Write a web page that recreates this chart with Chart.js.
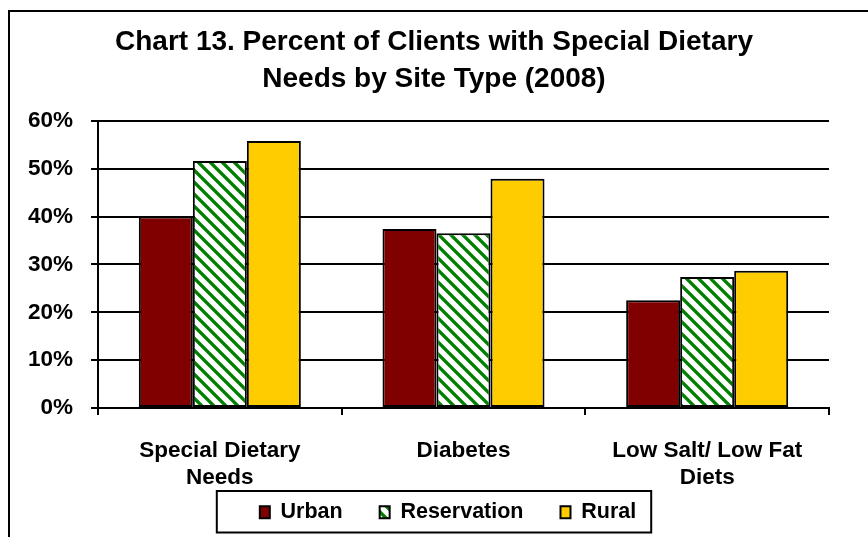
<!DOCTYPE html>
<html><head><meta charset="utf-8">
<script src="https://cdn.jsdelivr.net/npm/chart.js@4"></script>
<style>html,body{margin:0;padding:0;background:#fff}#wrap{width:868px;height:537px;position:relative}</style>
</head><body><div id="wrap"><canvas id="c" width="868" height="537"></canvas></div>
<script>
// ---- data ----
const categories = [["Special Dietary", "Needs"], "Diabetes", ["Low Salt/ Low Fat", "Diets"]];
const seriesNames = ["Urban", "Reservation", "Rural"];
const urbanValues = [40.0, 37.4, 22.5];
const reservationValues = [51.6, 36.5, 27.4];
const ruralValues = [55.8, 47.9, 28.7];
const yTickValues = [0, 10, 20, 30, 40, 50, 60];
const titleLines = ["Chart 13. Percent of Clients with Special Dietary", "Needs by Site Type (2008)"];

// ---- styles ----
const FONT = "'Liberation Sans', Arial, sans-serif";
const urbanColor = '#800000';
const ruralColor = '#FFCC00';

function makeStripePattern() {
  const P = 12, HALF = 2.3, c = document.createElement('canvas');
  c.width = P; c.height = P;
  const g = c.getContext('2d');
  const img = g.createImageData(P, P);
  const gr = [0, 128, 0];
  for (let y = 0; y < P; y++) for (let x = 0; x < P; x++) {
    let cov = 0;
    for (let sy = 0; sy < 4; sy++) for (let sx = 0; sx < 4; sx++) {
      const px = x + (sx + 0.5) / 4, py = y + (sy + 0.5) / 4;
      const d = ((px - py) % P + P) % P;
      if (Math.min(d, P - d) < HALF) cov++;
    }
    cov /= 16;
    const i = (y * P + x) * 4;
    for (let k = 0; k < 3; k++) img.data[i + k] = Math.round(255 * (1 - cov) + gr[k] * cov);
    img.data[i + 3] = 255;
  }
  g.putImageData(img, 0, 0);
  return document.getElementById('c').getContext('2d').createPattern(c, 'repeat');
}
const stripe = makeStripePattern();

const framePlugin = {
  id: 'frame',
  afterLayout(chart) {
    // nudge title and legend horizontally / legend items vertically
    const t = chart.titleBlock;
    if (t) { t.left += 14.5; t.right += 14.5; }
    const lg = chart.legend;
    if (lg) { lg.left += 28.5; lg.right += 28.5; lg.top -= 26.5; }
  },
  beforeDraw(chart) {
    const ctx = chart.ctx;
    ctx.save();
    ctx.fillStyle = '#fff';
    ctx.fillRect(0, 0, chart.width, chart.height);
    ctx.strokeStyle = '#000';
    ctx.lineWidth = 2;
    ctx.strokeRect(9, 11, chart.width + 40, chart.height + 40);
    ctx.restore();
  },
  afterDraw(chart) {
    const hb = chart.legend.legendHitBoxes;
    if (!hb || !hb.length) return;
    const first = hb[0], last = hb[hb.length - 1];
    const x0 = first.left - 43, x1 = last.left + last.width + 15;
    const y0 = first.top - 10.5, y1 = first.top + 31;
    const ctx = chart.ctx;
    ctx.save();
    ctx.strokeStyle = '#000';
    ctx.lineWidth = 2;
    ctx.strokeRect(x0, y0, x1 - x0, y1 - y0);
    ctx.restore();
  }
};

new Chart(document.getElementById('c'), {
  type: 'bar',
  data: {
    labels: categories,
    datasets: [
      { label: seriesNames[0], data: urbanValues, backgroundColor: urbanColor },
      { label: seriesNames[1], data: reservationValues, backgroundColor: stripe },
      { label: seriesNames[2], data: ruralValues, backgroundColor: ruralColor }
    ]
  },
  plugins: [framePlugin],
  options: {
    responsive: false,
    animation: false,
    devicePixelRatio: 1,
    layout: { padding: { left: 10, right: 39, top: 10, bottom: 4 } },
    datasets: {
      bar: {
        borderColor: '#000', borderWidth: 2, borderSkipped: false,
        categoryPercentage: 0.665, barPercentage: 1.0
      }
    },
    plugins: {
      tooltip: { enabled: false },
      title: {
        display: true,
        text: titleLines,
        color: '#000',
        font: { family: FONT, size: 28, weight: 'bold', lineHeight: 1.32 },
        padding: { top: 13.5, bottom: 23.5 }
      },
      legend: {
        position: 'bottom',
        maxHeight: 42,
        labels: {
          color: '#000',
          font: { family: FONT, size: 21.5, weight: 'bold' },
          boxWidth: 10, boxHeight: 12,
          padding: 37
        }
      }
    },
    scales: {
      x: {
        afterFit(s) { s.height = 83; },
        grid: { drawOnChartArea: false, drawTicks: true, tickLength: 7, color: '#000', lineWidth: 2, offset: true },
        border: { display: true, color: '#000', width: 2 },
        ticks: { color: '#000', padding: 22, font: { family: FONT, size: 22.5, weight: 'bold', lineHeight: 1.2 }, maxRotation: 0, autoSkip: false }
      },
      y: {
        min: 0, max: 60,
        afterFit(s) { s.width = 88; },
        afterBuildTicks(s) { s.ticks = yTickValues.map(v => ({ value: v })); },
        grid: { color: '#000', lineWidth: 2, tickLength: 7, drawTicks: true },
        border: { display: true, color: '#000', width: 2 },
        ticks: { color: '#000', padding: 18, font: { family: FONT, size: 22.5, weight: 'bold' }, callback: v => v + '%' }
      }
    }
  }
});
</script>
</body></html>
